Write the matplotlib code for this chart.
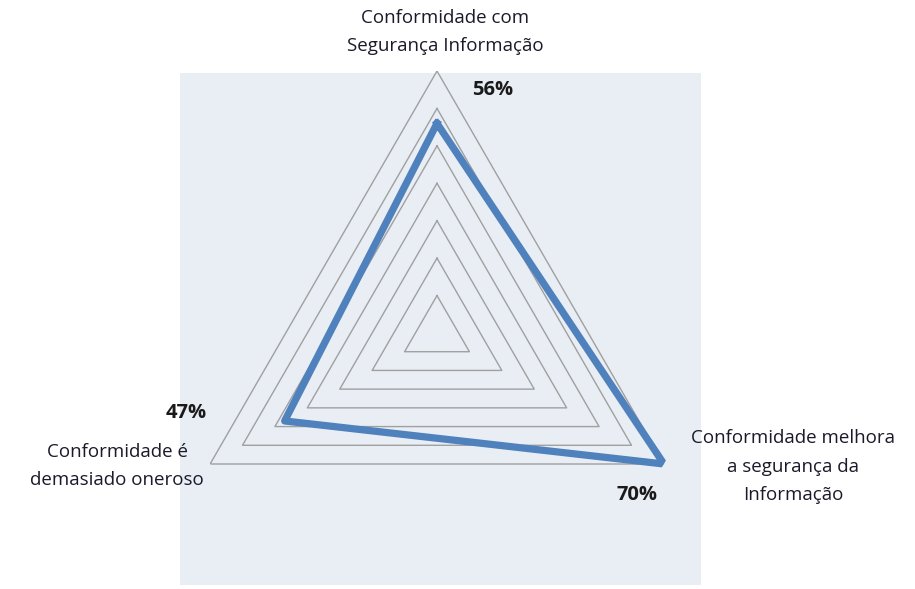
import numpy as np
import matplotlib
matplotlib.use("Agg")
import matplotlib.pyplot as plt

categories = ["Conformidade com\nSegurança Informação",
              "Conformidade melhora\na segurança da\nInformação",
              "Conformidade é\ndemasiado oneroso"]
values = [0.56, 0.70, 0.47]
value_labels = ["56%", "70%", "47%"]
ring_levels = [0.1, 0.2, 0.3, 0.4, 0.5, 0.6, 0.7]

plt.rcParams['font.family'] = ['Open Sans', 'DejaVu Sans']

W, H = 915, 589
fig = plt.figure(figsize=(W / 100, H / 100), dpi=100)
fig.patch.set_facecolor("white")

# plot-area background
bg = fig.add_axes([180 / W, 1 - 585 / H, 521 / W, 512 / H], zorder=0)
bg.set_facecolor("#E9EDF4")
bg.set_xticks([])
bg.set_yticks([])
for s in bg.spines.values():
    s.set_visible(False)

cx, cy, R = 437, 333, 262
ax = fig.add_axes([(cx - R) / W, (H - cy - R) / H, 2 * R / W, 2 * R / H],
                  projection="polar", zorder=1)
ax.set_theta_offset(np.pi / 2)
ax.set_theta_direction(-1)
ax.set_ylim(0, 0.7)
ax.patch.set_visible(False)
ax.spines["polar"].set_visible(False)
ax.grid(False)
ax.set_xticks([])
ax.set_yticks([])

n = len(categories)
angles = np.arange(n) * 2 * np.pi / n
ang_closed = np.append(angles, angles[0])

for lv in ring_levels:
    ax.plot(ang_closed, [lv] * (n + 1), color="#A0A0A0", lw=1.0, zorder=2)

vals_closed = values + values[:1]
ax.plot(ang_closed, vals_closed, color="#4F81BD", lw=5.2, zorder=3,
        solid_joinstyle="round")

# category labels
cat_offsets = [(8, 39), (129, -3), (-93, -2)]
for a, lab, off in zip(angles, categories, cat_offsets):
    ax.annotate(lab, xy=(a, ring_levels[-1]), xytext=off,
                textcoords="offset pixels", ha="center", va="center",
                fontsize=13.5, color="#1A1A2A", linespacing=1.75,
                annotation_clip=False)

# value labels
val_offsets = [(56, 33), (-27, -31), (-98, 8)]
for a, v, lab, off in zip(angles, values, value_labels, val_offsets):
    ax.annotate(lab, xy=(a, v), xytext=off, textcoords="offset pixels",
                ha="center", va="center", fontsize=14.5, fontweight="bold",
                color="#1A1A1A", annotation_clip=False)

fig.savefig("out.png", dpi=100)
